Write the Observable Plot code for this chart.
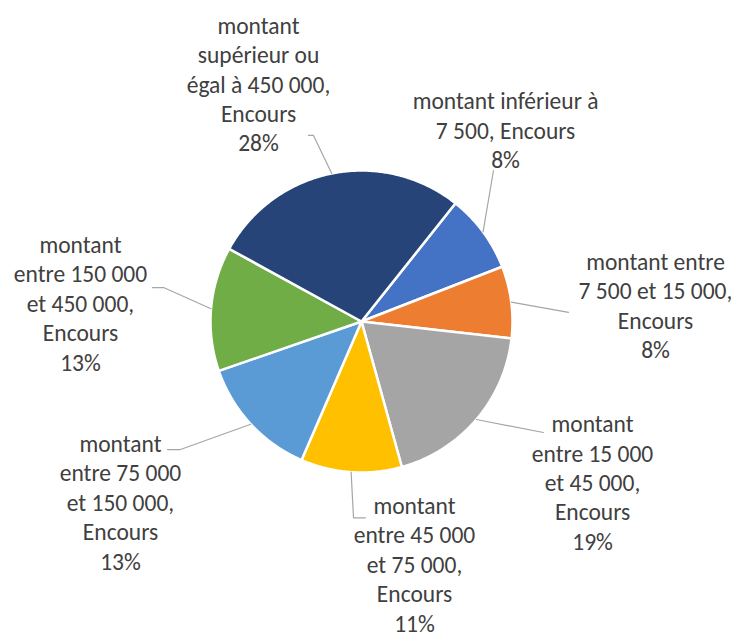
<!DOCTYPE html>
<html>
<head>
<meta charset="utf-8">
<script src="https://cdn.jsdelivr.net/npm/d3@7"></script>
<script src="https://cdn.jsdelivr.net/npm/@observablehq/plot@0.6"></script>
<style>
  html, body { margin: 0; padding: 0; background: #ffffff; }
  #chart { width: 736px; height: 639px; }
</style>
</head>
<body>
<div id="chart"></div>
<script>
// ---- Data ----
const categories = [
  "montant inférieur à 7 500",
  "montant entre 7 500 et 15 000",
  "montant entre 15 000 et 45 000",
  "montant entre 45 000 et 75 000",
  "montant entre 75 000 et 150 000",
  "montant entre 150 000 et 450 000",
  "montant supérieur ou égal à 450 000"
];
const seriesName = "Encours";
const values = [8.4, 7.7, 18.9, 10.8, 13.2, 13.3, 27.7];
// Label text as wrapped in the reference (category, series name)
const labelTexts = [
  "montant inférieur à\n7 500, Encours",
  "montant entre\n7 500 et 15 000,\nEncours",
  "montant\nentre 15 000\net 45 000,\nEncours",
  "montant\nentre 45 000\net 75 000,\nEncours",
  "montant\nentre 75 000\net 150 000,\nEncours",
  "montant\nentre 150 000\net 450 000,\nEncours",
  "montant\nsupérieur ou\négal à 450 000,\nEncours"
];

// ---- Styles & layout (kept apart from data) ----
const colors = ["#4472C4", "#ED7D31", "#A5A5A5", "#FFC000", "#5B9BD5", "#70AD47", "#264478"];
const startAngleDeg = 38.5;
const W = 736, H = 639, R = 151, CX = 361, CY = 321;
// label block centres, in pie-radius units relative to the centre (y downward)
const labelPos = [
  [0.954, -1.272], [1.947, -0.113], [1.530, 1.060], [0.351, 1.600],
  [-1.596, 1.192], [-1.861, -0.126], [-0.682, -1.579]
];
// leader-line elbows, in pie-radius units
const leaderElbows = [
  [[0.874, -1.0]],
  [[1.371, -0.060]],
  [[1.205, 0.735]],
  [[-0.053, 1.300], [0.026, 1.300]],
  [[-1.199, 0.848], [-1.285, 0.848]],
  [[-1.311, -0.225], [-1.384, -0.225]],
  [[-0.318, -1.232], [-0.351, -1.232]]
];

// ---- Geometry ----
const start = startAngleDeg * Math.PI / 180;
const arcs = d3.pie().sort(null).startAngle(start).endAngle(start + 2 * Math.PI)(values);
const total = d3.sum(values);

const slicePts = arcs.flatMap((a, i) => {
  const n = Math.max(2, Math.ceil((a.endAngle - a.startAngle) / (Math.PI / 360)));
  const pts = [{name: categories[i], x: 0, y: 0}];
  for (let k = 0; k <= n; k++) {
    const t = a.startAngle + (a.endAngle - a.startAngle) * k / n;
    pts.push({name: categories[i], x: Math.sin(t), y: -Math.cos(t)});
  }
  return pts;
});

const leaderPts = arcs.flatMap((a, i) => {
  const m = (a.startAngle + a.endAngle) / 2;
  const pts = [{name: categories[i], x: Math.sin(m), y: -Math.cos(m)}];
  leaderElbows[i].forEach(([x, y]) => pts.push({name: categories[i], x, y}));
  return pts;
});

const labels = arcs.map((a, i) => ({
  name: categories[i],
  x: labelPos[i][0],
  y: labelPos[i][1],
  text: labelTexts[i] + "\n" + Math.round(values[i] / total * 100) + "%"
}));

const chart = Plot.plot({
  width: W,
  height: H,
  margin: 0,
  style: {background: "#ffffff"},
  x: {domain: [-CX / R, (W - CX) / R], range: [0, W], axis: null},
  y: {domain: [-CY / R, (H - CY) / R], range: [0, H], axis: null},
  color: {domain: categories, range: colors},
  marks: [
    Plot.line(slicePts, {
      x: "x", y: "y", z: "name", fill: "name",
      stroke: "#ffffff", strokeWidth: 2.5, curve: "linear-closed"
    }),
    Plot.line(leaderPts, {
      x: "x", y: "y", z: "name", stroke: "#A6A6A6", strokeWidth: 1.2, curve: "linear"
    }),
    Plot.text(labels, {
      x: "x", y: "y", text: "text",
      fill: "#404040", fontSize: 23.5, lineHeight: 1.255,
      fontFamily: "Carlito, Calibri, Lato, sans-serif",
      textAnchor: "middle"
    })
  ]
});
document.getElementById("chart").appendChild(chart);
</script>
</body>
</html>
